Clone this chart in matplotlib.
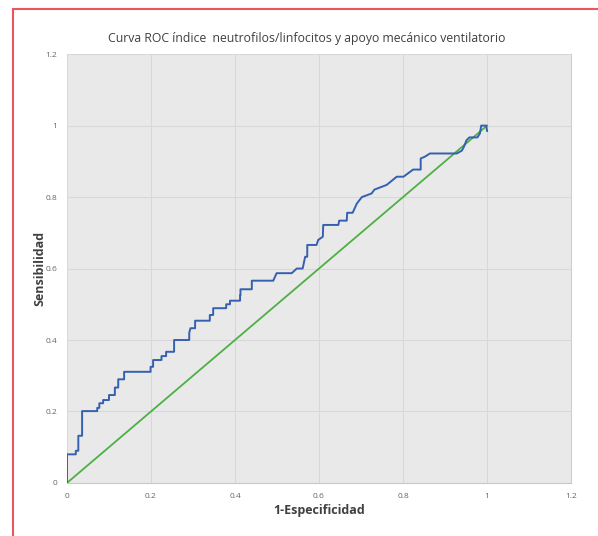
import numpy as np
import matplotlib.pyplot as plt
from matplotlib.patches import Rectangle

# ROC curve points (1-especificidad, sensibilidad)
fpr = [0.0, 0.0, 0.021, 0.021, 0.027, 0.027, 0.036, 0.036, 0.072, 0.072, 0.077, 0.077,
       0.086, 0.086, 0.100, 0.100, 0.114, 0.114, 0.122, 0.122, 0.136, 0.136, 0.199,
       0.199, 0.205, 0.205, 0.225, 0.225, 0.236, 0.236, 0.249, 0.255, 0.255, 0.291,
       0.291, 0.294, 0.305, 0.305, 0.340, 0.340, 0.348, 0.348, 0.379, 0.379, 0.388,
       0.388, 0.412, 0.412, 0.413, 0.413, 0.440, 0.440, 0.491, 0.499, 0.535, 0.547,
       0.561, 0.567, 0.572, 0.572, 0.594, 0.598, 0.609, 0.610, 0.646, 0.648, 0.666,
       0.667, 0.680, 0.690, 0.702, 0.725, 0.732, 0.761, 0.785, 0.801, 0.824, 0.842,
       0.842, 0.852, 0.864, 0.928, 0.940, 0.945, 0.951, 0.958, 0.977, 0.983, 0.986,
       0.998, 1.0]
tpr = [0.0, 0.080, 0.080, 0.090, 0.090, 0.132, 0.132, 0.201, 0.201, 0.210, 0.210, 0.223,
       0.223, 0.232, 0.232, 0.246, 0.246, 0.267, 0.267, 0.290, 0.290, 0.311, 0.311,
       0.325, 0.325, 0.344, 0.344, 0.355, 0.355, 0.367, 0.367, 0.367, 0.400, 0.400,
       0.420, 0.433, 0.433, 0.454, 0.454, 0.470, 0.470, 0.489, 0.489, 0.500, 0.500,
       0.510, 0.510, 0.525, 0.525, 0.542, 0.542, 0.566, 0.566, 0.587, 0.587, 0.600,
       0.600, 0.633, 0.633, 0.666, 0.666, 0.680, 0.689, 0.722, 0.722, 0.734, 0.734,
       0.756, 0.756, 0.782, 0.800, 0.810, 0.821, 0.834, 0.857, 0.857, 0.877, 0.877,
       0.908, 0.913, 0.922, 0.922, 0.930, 0.941, 0.959, 0.967, 0.967, 0.978, 1.0,
       1.0, 0.985]
ref_x = [0, 1]
ref_y = [0, 1]
ticks = [0, 0.2, 0.4, 0.6, 0.8, 1, 1.2]
tick_labels = ["0", "0.2", "0.4", "0.6", "0.8", "1", "1.2"]

plt.rcParams['font.family'] = ['Open Sans', 'DejaVu Sans']

fig = plt.figure(figsize=(5.98, 5.36), dpi=100)
ax = fig.add_axes([0.112, 0.099, 0.843, 0.800])
ax.set_facecolor('#e9e9e9')

ax.plot(fpr, tpr, color='#3560b0', lw=1.4, zorder=3)
ax.plot(ref_x, ref_y, color='#4db044', lw=1.3, zorder=2)

ax.set_xlim(0, 1.2)
ax.set_ylim(0, 1.2)
ax.set_xticks(ticks)
ax.set_yticks(ticks)
ax.set_xticklabels(tick_labels)
ax.set_yticklabels(tick_labels)
ax.tick_params(length=0, labelsize=6, labelcolor='#666666', pad=7)
ax.grid(color='#d8d8d8', lw=0.8)
ax.set_axisbelow(True)
for s in ['top', 'left']:
    ax.spines[s].set_visible(False)
ax.spines['right'].set_color('#d0d0d0')
ax.spines['bottom'].set_color('#c8c8c8')

ax.set_xlabel('1-Especificidad', fontsize=9, fontweight='bold', color='#404040', labelpad=3)
ax.set_ylabel('Sensibilidad', fontsize=9, fontweight='bold', color='#404040', labelpad=-1)
fig.text(0.513, 0.928, 'Curva ROC índice  neutrofilos/linfocitos y apoyo mecánico ventilatorio',
         ha='center', va='center', fontsize=8.8, color='#404040')

# red frame around the figure (cut at right and bottom)
fig.patches.append(Rectangle((13 / 598, -0.1), 1.2, 1 - 9 / 536 + 0.1,
                             transform=fig.transFigure, fill=False,
                             edgecolor='#e8575b', lw=1.5))

fig.savefig('out.png', dpi=100)
